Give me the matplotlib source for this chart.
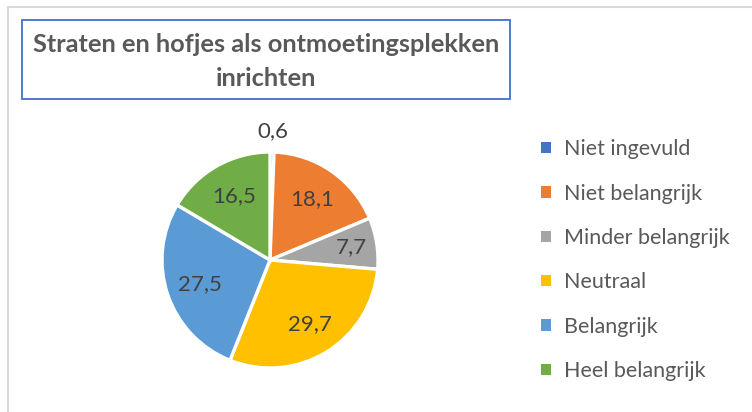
import matplotlib.pyplot as plt
import numpy as np
from matplotlib.patches import Patch, Rectangle

plt.rcParams['font.family'] = ['Lato', 'DejaVu Sans']

categories = ['Niet ingevuld', 'Niet belangrijk', 'Minder belangrijk',
              'Neutraal', 'Belangrijk', 'Heel belangrijk']
values = [0.6, 18.1, 7.7, 29.7, 27.5, 16.5]
value_labels = ['0,6', '18,1', '7,7', '29,7', '27,5', '16,5']
colors = ['#4472C4', '#ED7D31', '#A5A5A5', '#FFC000', '#5B9BD5', '#70AD47']

# label distance from centre (fraction of radius), excel "best fit"-ish
label_dist = [1.19, 0.69, 0.76, 0.70, 0.69, 0.68]

W, H = 752, 412
fig = plt.figure(figsize=(W / 100, H / 100), dpi=100)

# outer chart border (only top and left visible in the crop)
fig.add_artist(plt.Line2D([8 / W, 8 / W], [0, 1 - 6.5 / H], color='#D9D9D9', lw=1.5))
fig.add_artist(plt.Line2D([8 / W, 1], [1 - 6.5 / H, 1 - 6.5 / H], color='#D9D9D9', lw=1.5))

# title box
fig.add_artist(Rectangle((22 / W, 1 - 99 / H), (510 - 22) / W, (99 - 20) / H,
                         transform=fig.transFigure, fill=False,
                         edgecolor='#4472C4', lw=1.3))
fig.text(266 / W, 1 - 45 / H, 'Straten en hofjes als ontmoetingsplekken',
         ha='center', va='center', fontsize=18.3, fontweight='bold', color='#595959')
fig.text(266 / W, 1 - 78 / H, 'inrichten',
         ha='center', va='center', fontsize=18.3, fontweight='bold', color='#595959')

cx, cy, r = 270, 260, 108
ax = fig.add_axes([(cx - r) / W, 1 - (cy + r) / H, 2 * r / W, 2 * r / H])
wedges, _ = ax.pie(values, colors=colors, startangle=90, counterclock=False,
                   radius=1, wedgeprops=dict(edgecolor='white', linewidth=2.4))
ax.set_xlim(-1, 1)
ax.set_ylim(-1, 1)
ax.set_aspect('equal')
ax.axis('off')

for w, lab, d in zip(wedges, value_labels, label_dist):
    ang = np.deg2rad((w.theta1 + w.theta2) / 2)
    ax.text(d * np.cos(ang), d * np.sin(ang), lab, ha='center', va='center',
            fontsize=16, color='#404040', clip_on=False)

handles = [Patch(facecolor=c, edgecolor='none') for c in colors]
fig.legend(handles, categories, loc='upper left',
           bbox_to_anchor=(522 / W, 1 - 120 / H), frameon=False,
           fontsize=15.5, handlelength=0.45, handleheight=0.45,
           handletextpad=0.6, labelspacing=1.13, labelcolor='#595959')

fig.savefig('out.png', dpi=100)
